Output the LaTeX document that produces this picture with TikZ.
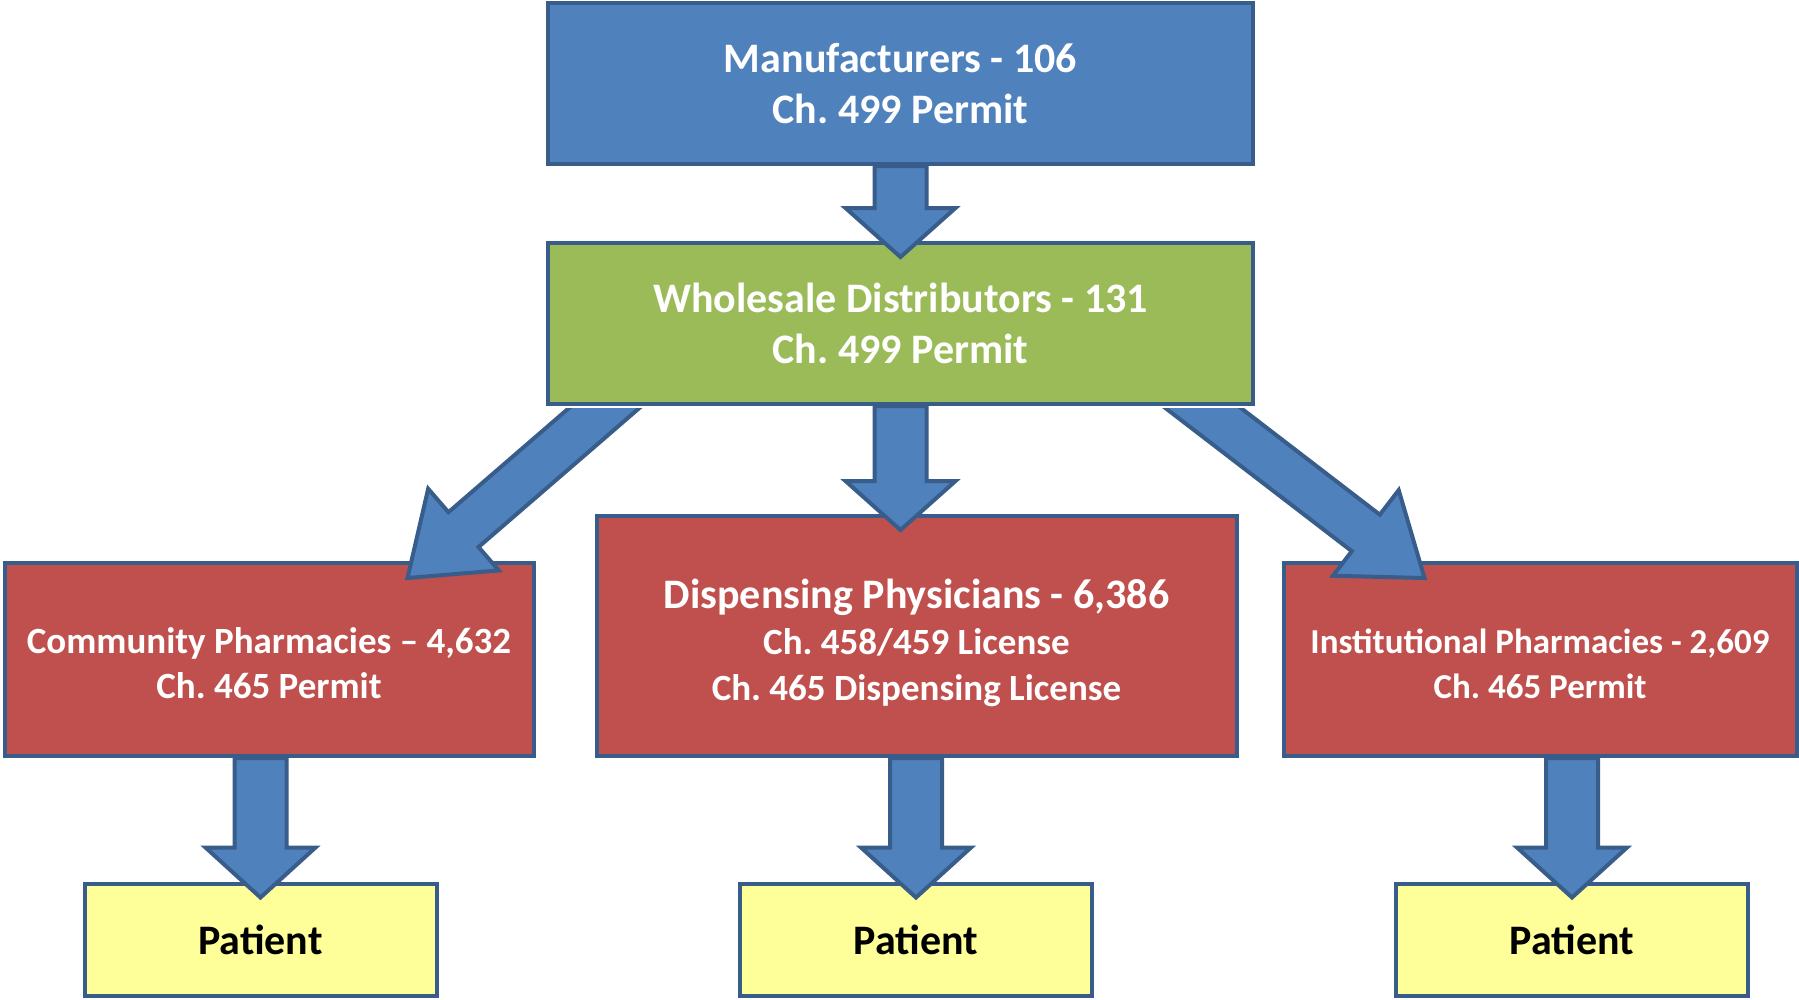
\documentclass[tikz,border=0pt]{standalone}
\usepackage{fontspec}
\setmainfont{Carlito}
\usetikzlibrary{calc}
\frenchspacing

\definecolor{boxblue}{HTML}{4F81BD}
\definecolor{edgeblue}{HTML}{385D8A}
\definecolor{boxgreen}{HTML}{9BBB59}
\definecolor{boxred}{HTML}{C0504D}
\definecolor{boxyellow}{HTML}{FFFF99}

% block arrow: start, tip, half shaft, half head, head length
\newcommand{\blockarrow}[5]{%
  \coordinate (ah) at ($(#2)!#5!(#1)$);
  \draw[flowarrow] ($(#1)!#3!90:(#2)$) -- ($(ah)!#3!90:(#2)$) -- ($(ah)!#4!90:(#2)$) -- (#2)
    -- ($(ah)!#4!-90:(#2)$) -- ($(ah)!#3!-90:(#2)$) -- ($(#1)!#3!-90:(#2)$) -- cycle;
}

\begin{document}
\begin{tikzpicture}[x=1pt, y=-1pt,
    box/.style={draw=edgeblue, line width=4pt, inner sep=0pt, align=center, text=white},
    patient/.style={box, fill=boxyellow, text=black, minimum width=352pt, minimum height=112pt,
      font=\bfseries\fontsize{42}{49}\selectfont},
    flowarrow/.style={draw=edgeblue, fill=boxblue, line width=4pt, line join=miter}]
  \useasboundingbox (0,0) rectangle (1799,999);

  \node[box, fill=boxred, minimum width=529pt, minimum height=193pt,
    font=\bfseries\fontsize{37}{45}\selectfont] (comm) at (269,659.5)
    {\rule{0pt}{34pt}Community Pharmacies – 4,632\\Ch. 465 Permit};
  \node[box, fill=boxred, minimum width=640pt, minimum height=240pt,
    font=\bfseries\fontsize{37}{46}\selectfont] (disp) at (916.5,636)
    {{\fontsize{42}{47}\selectfont\rule{0pt}{44pt}Dispensing Physicians - 6,386}\\Ch. 458/459 License\\Ch. 465 Dispensing License};
  \node[box, fill=boxred, minimum width=513pt, minimum height=193pt,
    font=\bfseries\fontsize{35}{45}\selectfont] (inst) at (1540,659.5)
    {\rule{0pt}{33pt}Institutional Pharmacies - 2,609\\Ch. 465 Permit};

  \node[patient] (pat1) at (260.5,939.5) {Patient};
  \node[patient] (pat2) at (916,939.5) {Patient};
  \node[patient] (pat3) at (1572,939.5) {Patient};

  \node[box, fill=boxblue, minimum width=705pt, minimum height=161pt,
    font=\bfseries\fontsize{42}{51.6}\selectfont] (manu) at (900.5,83.5)
    {Manufacturers - 106\\Ch. 499 Permit};
  \node[box, fill=boxgreen, minimum width=705pt, minimum height=161pt,
    font=\bfseries\fontsize{42}{51.6}\selectfont] (whole) at (900.5,323.5)
    {Wholesale Distributors - 131\\Ch. 499 Permit};

  \blockarrow{manu.south}{$(whole.north)+(0,16)$}{26pt}{55pt}{49pt}
  \blockarrow{whole.south}{$(whole.south |- disp.north)+(0,16)$}{26pt}{55pt}{49pt}

  \begin{scope}
    \clip ($(whole.south west)+(-400,2)$) rectangle ($(whole.south east)+(400,300)$);
    \coordinate (lefttip) at ($(comm.north east)+(-128,17)$);
    \coordinate (righttip) at ($(inst.north west)+(143,17)$);
    \blockarrow{$($(whole.south)+(-294,0)$)!-40pt!(lefttip)$}{lefttip}{23pt}{54pt}{74pt}
    \blockarrow{$($(whole.south)+(300,0)$)!-40pt!(righttip)$}{righttip}{23pt}{54pt}{74pt}
  \end{scope}

  \blockarrow{pat1.north |- comm.south}{$(pat1.north)+(0,16)$}{26pt}{55pt}{50pt}
  \blockarrow{pat2.north |- disp.south}{$(pat2.north)+(0,16)$}{26pt}{55pt}{50pt}
  \blockarrow{pat3.north |- inst.south}{$(pat3.north)+(0,16)$}{26pt}{55pt}{50pt}
\end{tikzpicture}
\end{document}
